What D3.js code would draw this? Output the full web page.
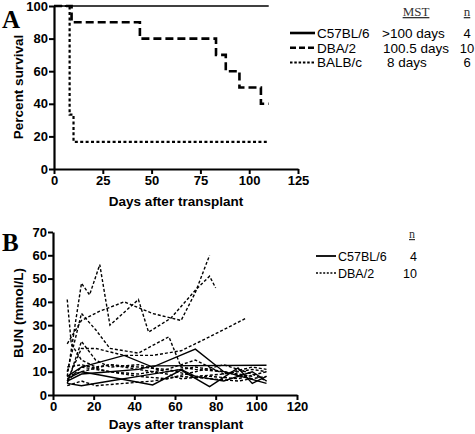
<!DOCTYPE html>
<html><head><meta charset="utf-8">
<script src="https://cdn.jsdelivr.net/npm/d3@7"></script>
<style>
body{margin:0;background:#fff;}
svg{display:block;}
text{font-family:"Liberation Sans",Arial,Helvetica,sans-serif;}
</style></head>
<body><svg id="c" width="475" height="434"></svg>
<script>
// ---------- Panel A: survival ----------
const survXTicks = [0,25,50,75,100,125];
const survYTicks = [0,20,40,60,80,100];
const c57SurvDays = [0,110];
const c57SurvPct  = [100,100];
const dbaSurvDays = [0,9,44,83,88,95,106,110];
const dbaSurvPct  = [100,90,80,70,60,50,40,40];
const balbSurvDays = [0,8,10,109];
const balbSurvPct  = [100,33.3,16.7,16.7];
const legendA = [
  {name:"C57BL/6", mst:">100 days", n:"4", dash:null},
  {name:"DBA/2", mst:"100.5 days", n:"10", dash:"6,3"},
  {name:"BALB/c", mst:"8 days", n:"6", dash:"2.5,1.8"}
];

// ---------- Panel B: BUN ----------
const bunXTicks = [0,20,40,60,80,100,120];
const bunYTicks = [0,10,20,30,40,50,60,70];
// C57BL/6 mice (solid)
const c57BunDays = [
  [7,14,35,49,70,84,105],
  [7,14,28,42,49,105],
  [7,14,23,49,63,77,91,98,105],
  [7,14,28,42,63,70,84,98,105]
];
const c57BunVals = [
  [8,12,17,12,19.7,10,5],
  [6,9,10,11,12.5,12.8],
  [7,10,8.6,4.3,10.7,3.6,11.6,5,8],
  [5,4,6,8,11,8,6,10,6]
];
// DBA/2 mice (dashed)
const dbaBunDays = [
  [7,14,18,23,28,42,47,58,70,77,80],
  [7,14,23,35,49,63,70,77],
  [7,14,21,28,42,57,63,70,84,98],
  [7,14,21,35,49,63,77,95],
  [7,9,14,21,28,42,56,70,84,98,105],
  [7,14,21,28,42,56,70,84,98],
  [7,14,21,35,49,63,77,91,105],
  [7,14,28,42,56,70,84,98,105],
  [7,14,28,42,56,63,77,91,105],
  [7,14,28,42,56,70,84,98,105]
];
const dbaBunVals = [
  [8,48,43,56,30,41,27,33,45,51,46],
  [22,32,36,40,35,32,44,60],
  [10,35,28,20,18,25,12,11,10,8],
  [6,20,20,17,17,19,25,33],
  [41,22,15,12,13,12,11,15,9,11,10],
  [5,23,15,12,13,10,12,10,7],
  [4,6,4,5,6,8,7,6,8],
  [6,12,10,9,11,8,9,12,11],
  [8,10,13,11,9,7,8,7,10],
  [12,13,10,8,7,10,13,9,6]
];
const legendB = [
  {name:"C57BL/6", n:"4", dash:null},
  {name:"DBA/2", n:"10", dash:"2,1.6"}
];

const svg = d3.select("#c");
const tickFont = "bold 13px 'Liberation Sans', Arial, sans-serif";
const titleFont = "bold 13.5px 'Liberation Sans', Arial, sans-serif";

function styleAxis(g){
  g.selectAll(".domain").attr("stroke","#000").attr("stroke-width",2.2);
  g.selectAll(".tick line").attr("stroke","#000").attr("stroke-width",2);
  g.selectAll(".tick text").attr("fill","#000").style("font",tickFont);
}

// ===== Panel A =====
const xA = d3.scaleLinear().domain([0,125]).range([54,298]);
const yA = d3.scaleLinear().domain([0,100]).range([169,6]);
const gA = svg.append("g");
gA.append("g").attr("transform","translate(0,169)")
  .call(d3.axisBottom(xA).tickValues(survXTicks).tickSize(5).tickSizeOuter(0).tickPadding(2))
  .call(styleAxis);
gA.append("g").attr("transform","translate(54,0)")
  .call(d3.axisLeft(yA).tickValues(survYTicks).tickSize(5).tickSizeOuter(0).tickPadding(1))
  .call(styleAxis);

const stepLine = d3.line().curve(d3.curveStepAfter).x(d=>xA(d[0])).y(d=>yA(d[1]));
gA.append("path").datum(c57SurvDays.map((d,i)=>[d,c57SurvPct[i]]))
  .attr("d",stepLine).attr("fill","none").attr("stroke","#000").attr("stroke-width",1.3);
gA.append("path").datum(dbaSurvDays.map((d,i)=>[d,dbaSurvPct[i]]))
  .attr("d",stepLine).attr("fill","none").attr("stroke","#000").attr("stroke-width",2.6)
  .attr("stroke-dasharray","8,4");
gA.append("path").datum(balbSurvDays.map((d,i)=>[d,balbSurvPct[i]]))
  .attr("d",stepLine).attr("fill","none").attr("stroke","#000").attr("stroke-width",2.2)
  .attr("stroke-dasharray","3,2.4");

gA.append("text").attr("x",176).attr("y",206).attr("text-anchor","middle")
  .style("font",titleFont).text("Days after transplant");
gA.append("text").attr("transform","translate(23,87) rotate(-90)").attr("text-anchor","middle")
  .style("font",titleFont).text("Percent survival");
gA.append("text").attr("x",2).attr("y",28)
  .style("font","bold 25px 'Liberation Serif', 'Times New Roman', serif").text("A");

// legend A
gA.append("text").attr("x",416).attr("y",16).attr("text-anchor","middle")
  .style("font","13px 'Liberation Serif', 'Times New Roman', serif").attr("fill","#333")
  .attr("text-decoration","underline").text("MST");
gA.append("text").attr("x",467).attr("y",16).attr("text-anchor","middle")
  .style("font","13px 'Liberation Serif', 'Times New Roman', serif").attr("fill","#333")
  .attr("text-decoration","underline").text("n");
legendA.forEach((d,i)=>{
  const y = 33 + i*14.7;
  gA.append("line").attr("x1",290).attr("x2",315).attr("y1",y).attr("y2",y)
    .attr("stroke","#000").attr("stroke-width",i==2?2:2.6)
    .attr("stroke-dasharray",d.dash);
  const f = "13.5px 'Liberation Sans', Arial, sans-serif";
  gA.append("text").attr("x",317).attr("y",y+5).style("font",f).text(d.name);
  gA.append("text").attr("x",i==0?382:(i==1?383:387)).attr("y",y+5).style("font",f).text(d.mst);
  gA.append("text").attr("x",467).attr("y",y+5).attr("text-anchor","middle")
    .style("font","13px 'Liberation Sans', Arial, sans-serif").text(d.n);
});

// ===== Panel B =====
const xB = d3.scaleLinear().domain([0,120]).range([53,297]);
const yB = d3.scaleLinear().domain([0,70]).range([395,232]);
const gB = svg.append("g");
gB.append("g").attr("transform","translate(0,395)")
  .call(d3.axisBottom(xB).tickValues(bunXTicks).tickSize(5).tickSizeOuter(0).tickPadding(2))
  .call(styleAxis);
gB.append("g").attr("transform","translate(53,0)")
  .call(d3.axisLeft(yB).tickValues(bunYTicks).tickSize(5).tickSizeOuter(0).tickPadding(1))
  .call(styleAxis);

const bunLine = d3.line().x(d=>xB(d[0])).y(d=>yB(d[1]));
dbaBunDays.forEach((days,k)=>{
  gB.append("path").datum(days.map((d,i)=>[d,dbaBunVals[k][i]]))
    .attr("d",bunLine).attr("fill","none").attr("stroke","#000").attr("stroke-width",1.4)
    .attr("stroke-dasharray","3,2");
});
c57BunDays.forEach((days,k)=>{
  gB.append("path").datum(days.map((d,i)=>[d,c57BunVals[k][i]]))
    .attr("d",bunLine).attr("fill","none").attr("stroke","#000").attr("stroke-width",1.4);
});

gB.append("text").attr("x",176).attr("y",429).attr("text-anchor","middle")
  .style("font",titleFont).text("Days after transplant");
gB.append("text").attr("transform","translate(23,313) rotate(-90)").attr("text-anchor","middle")
  .style("font",titleFont).text("BUN (mmol/L)");
gB.append("text").attr("x",2).attr("y",251)
  .style("font","bold 25px 'Liberation Serif', 'Times New Roman', serif").text("B");

gB.append("text").attr("x",412).attr("y",238).attr("text-anchor","middle")
  .style("font","12px 'Liberation Serif', 'Times New Roman', serif").attr("fill","#333")
  .attr("text-decoration","underline").text("n");
legendB.forEach((d,i)=>{
  const y = 256 + i*17;
  gB.append("line").attr("x1",316).attr("x2",336).attr("y1",y).attr("y2",y)
    .attr("stroke","#000").attr("stroke-width",d.dash==null?1.8:1.3)
    .attr("stroke-dasharray",d.dash);
  const f = "12.5px 'Liberation Sans', Arial, sans-serif";
  gB.append("text").attr("x",338).attr("y",y+4.5).style("font",f).text(d.name);
  gB.append("text").attr("x",417).attr("y",y+4.5).attr("text-anchor","end").style("font",f).text(d.n);
});
</script></body></html>
